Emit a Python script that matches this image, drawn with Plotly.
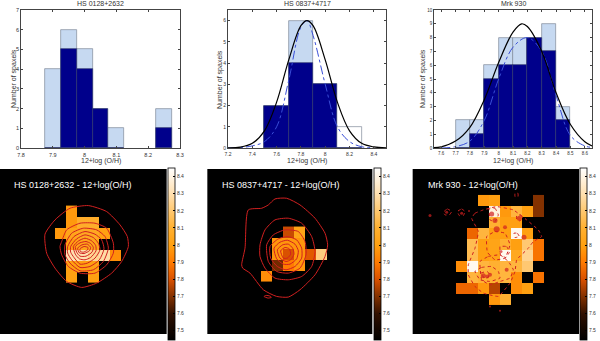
import plotly.graph_objects as go

W, H = 600, 341
FONT = "Liberation Sans"

# histogram data (bin centres, light = all spaxels, dark = subset)
h1_x = [7.9, 7.95, 8.0, 8.05, 8.1, 8.25]
h1_light = [4, 6, 5, 2, 1, 2]
h1_dark = [0, 5, 4, 2, 0, 1]
h1_ticks = [7.8, 7.9, 8.0, 8.1, 8.2, 8.3]
h1_ticktext = ["7.8", "7.9", "8", "8.1", "8.2", "8.3"]

h2_x = [7.6, 7.8, 8.0, 8.2]
h2_light = [2, 6, 3, 1]
h2_dark = [2, 4, 3, 0]
h2_ticks = [7.2, 7.4, 7.6, 7.8, 8.0, 8.2, 8.4]
h2_ticktext = ["7.2", "7.4", "7.6", "7.8", "8", "8.2", "8.4"]

h3_x = [7.75, 7.85, 7.95, 8.05, 8.15, 8.25, 8.35, 8.45]
h3_light = [2, 2, 6, 8, 8, 8, 9, 3]
h3_dark = [0, 1, 5, 6, 6, 8, 7, 2]
h3_ticks = [7.6, 7.7, 7.8, 7.9, 8.0, 8.1, 8.2, 8.3, 8.4, 8.5, 8.6]
h3_ticktext = ["7.6", "7.7", "7.8", "7.9", "8", "8.1", "8.2", "8.3", "8.4", "8.5", "8.6"]

# fitted curves
h2_black_x = [7.2, 7.3, 7.4, 7.5, 7.6, 7.7, 7.8, 7.85, 7.9, 8.0, 8.1, 8.2, 8.3, 8.4, 8.5]
h2_black_y = [0.01, 0.04, 0.22, 0.81, 2.16, 4.15, 5.76, 6.0, 5.76, 4.15, 2.16, 0.81, 0.22, 0.05, 0.01]
h2_blue_x = [7.2, 7.3, 7.4, 7.5, 7.6, 7.7, 7.8, 7.85, 7.9, 8.0, 8.1, 8.2, 8.3, 8.4]
h2_blue_y = [0.0, 0.02, 0.1, 0.3, 1.0, 3.2, 5.7, 6.0, 5.3, 3.0, 1.0, 0.3, 0.06, 0.01]
h3_black_x = [7.55, 7.6, 7.7, 7.8, 7.9, 8.0, 8.1, 8.16, 8.2, 8.3, 8.4, 8.5, 8.6, 8.65]
h3_black_y = [0.03, 0.08, 0.5, 1.5, 3.5, 6.2, 8.4, 9.0, 8.8, 7.0, 4.0, 1.7, 0.45, 0.15]
h3_blue_x = [7.6, 7.7, 7.8, 7.9, 8.0, 8.1, 8.2, 8.3, 8.4, 8.5, 8.6, 8.65]
h3_blue_y = [0.0, 0.1, 0.5, 2.0, 5.0, 7.3, 8.0, 7.0, 3.8, 0.9, 0.15, 0.05]

# abundance maps, one row per spaxel row, None = no data
cb_vals = [7.5, 7.6, 7.7, 7.8, 7.9, 8.0, 8.1, 8.2, 8.3, 8.4]
cb_text = ["7.5", "7.6", "7.7", "7.8", "7.9", "8", "8.1", "8.2", "8.3", "8.4"]
N = None
m1_x0, m1_y0 = 165, 122
m1 = [
    [N, 7.98, N, N, N, N],
    [N, 7.98, 8.08, 8.08, N, N],
    [7.98, 8.03, 8.05, 8.05, 8.0, N],
    [N, 8.0, 8.03, 8.03, N, N],
    [N, 8.3, 8.3, 8.25, 8.28, 7.95],
    [N, 8.0, 8.0, 8.0, N, N],
    [N, 8.0, N, 8.0, N, N],
]
m2_x0, m2_y0 = 183, 185
m2 = [
    [N, N, 7.78, 8.02, N, N, N],
    [N, 7.97, 7.97, 7.97, N, N, N],
    [N, 7.97, 7.8, 7.97, 7.82, 8.22, N],
    [N, 7.68, 7.9, 7.97, N, N, N],
    [7.95, N, N, N, N, N, N],
]
m3_x0, m3_y0 = 168, 90
m3 = [
    [N, N, 7.98, 8.0, N, N, N, 7.7],
    [N, N, N, 8.38, 7.98, 8.12, 8.0, 7.7],
    [N, N, N, 8.1, 8.0, 8.0, N, N],
    [N, 7.85, 8.12, 8.0, 8.0, 8.42, 8.0, N],
    [N, 8.15, 8.0, 8.02, 8.1, 8.0, 8.2, 7.88],
    [N, 8.15, 8.0, 8.02, 8.42, 8.05, 8.25, 7.88],
    [7.95, 8.42, 8.12, 8.1, 8.12, 8.12, 8.2, N],
    [N, 8.12, 8.1, 8.1, 8.12, 7.95, N, 7.88],
    [7.85, 7.85, 7.98, 7.76, N, 7.95, 8.0, N],
    [N, N, N, 7.98, 8.1, N, N, N],
]

# contours, in crop pixel units of each map
m1_contours = [
    ([135, 165, 210, 265, 320, 360, 382, 385, 365, 335, 290, 245, 200, 165, 140, 135],
     [208, 165, 130, 122, 140, 180, 215, 245, 290, 325, 355, 368, 350, 310, 265, 208]),
    ([185, 200, 240, 285, 320, 340, 340, 320, 285, 240, 205, 185, 180, 185],
     [230, 195, 175, 175, 190, 235, 265, 300, 325, 325, 305, 270, 245, 230]),
    ([195, 215, 250, 290, 315, 325, 310, 280, 240, 210, 195, 195],
     [240, 205, 190, 195, 215, 250, 290, 315, 318, 295, 270, 240]),
    ([203, 222, 255, 285, 305, 312, 298, 270, 240, 215, 203, 203],
     [245, 215, 200, 208, 225, 252, 285, 305, 308, 285, 265, 245]),
    ([212, 230, 255, 280, 295, 300, 285, 262, 240, 222, 212, 212],
     [245, 222, 210, 218, 235, 255, 280, 295, 298, 278, 262, 245]),
    ([220, 236, 255, 275, 287, 288, 272, 255, 238, 226, 220],
     [245, 228, 220, 228, 242, 258, 278, 285, 282, 268, 245]),
    ([226, 240, 258, 272, 280, 276, 258, 240, 230, 226],
     [245, 234, 230, 236, 248, 262, 274, 274, 262, 245]),
    ([233, 246, 262, 272, 268, 252, 238, 233],
     [250, 240, 238, 248, 258, 266, 264, 250]),
    ([240, 252, 264, 262, 250, 241, 240],
     [252, 245, 248, 256, 262, 260, 252]),
]
m2_contours = [
    ([125, 135, 145, 185, 205, 225, 260, 300, 345, 375, 383, 375, 345, 300, 265, 230, 190, 150, 128, 125],
     [300, 250, 135, 130, 120, 102, 100, 120, 160, 205, 240, 275, 330, 375, 397, 395, 375, 325, 310, 300]),
    ([180, 195, 225, 265, 305, 335, 345, 335, 305, 265, 225, 195, 180, 180],
     [240, 195, 165, 160, 175, 215, 260, 305, 335, 345, 340, 310, 275, 240]),
    ([200, 220, 255, 295, 315, 318, 300, 265, 230, 205, 200],
     [240, 210, 195, 200, 230, 270, 310, 325, 320, 290, 240]),
    ([210, 235, 262, 290, 305, 305, 285, 258, 232, 212, 210],
     [245, 222, 215, 225, 250, 280, 305, 315, 305, 280, 245]),
    ([222, 240, 262, 285, 295, 290, 270, 250, 230, 222],
     [250, 232, 226, 238, 258, 282, 298, 298, 282, 250]),
    ([232, 248, 265, 278, 282, 272, 258, 240, 232],
     [255, 240, 238, 250, 268, 285, 290, 280, 255]),
    ([242, 255, 268, 272, 262, 250, 242],
     [258, 248, 252, 268, 280, 280, 258]),
    ([192, 198, 210, 214, 204, 192],
     [395, 392, 394, 398, 400, 395]),
]
m3_contours = [
    ([215, 225, 250, 290, 340, 380, 415, 425, 400, 385, 350, 345, 330, 295, 250, 225, 205, 205, 225, 235, 215],
     [160, 145, 135, 125, 135, 165, 195, 215, 230, 250, 285, 320, 355, 395, 385, 365, 330, 300, 250, 200, 160]),
    ([240, 265, 300, 325, 340, 330, 300, 270, 245, 240],
     [290, 275, 270, 290, 315, 340, 350, 360, 345, 290]),
    ([260, 285, 315, 330, 315, 285, 262, 260],
     [215, 200, 205, 240, 280, 285, 262, 215]),
    ([225, 245, 275, 295, 300, 270, 240, 225],
     [320, 308, 305, 320, 340, 350, 345, 320]),
    ([268, 285, 295, 285, 270, 268],
     [130, 130, 150, 170, 165, 130]),
    ([130, 142, 155, 148, 135, 130],
     [142, 132, 140, 150, 150, 142]),
    ([172, 185, 195, 190, 178, 172],
     [140, 132, 140, 152, 152, 140]),
    ([350, 362, 368, 360, 350, 350],
     [152, 150, 160, 168, 165, 152]),
    ([300, 320, 328, 318, 302, 300],
     [245, 245, 262, 278, 272, 245]),
    ([342, 352, 358, 345, 342],
     [205, 205, 215, 218, 205]),
    ([345, 354, 354, 345, 345], [85, 85, 95, 95, 85]),
    ([243, 262, 270, 255, 243], [325, 320, 332, 342, 325]),
]
# small closed knots in the Mrk 930 contours
m3_knots_x = [275, 285, 290, 315, 358, 372, 250, 270, 320, 90, 140, 185, 207, 300, 270, 303, 262]
m3_knots_y = [147, 167, 193, 187, 160, 217, 333, 330, 315, 152, 142, 145, 138, 438, 425, 260, 335]
m3_knots_size = [5, 5, 6, 4, 5, 5, 5, 4, 4, 3, 3, 3, 2, 2, 2, 3, 4]

LIGHT = "#c6d9f1"
DARK = "#00008b"
HEAT = [[0, "#000000"], [0.15, "#301000"], [0.25, "#803000"], [0.35, "#d85000"], [0.45, "#ff7a00"],
        [0.55, "#ffa010"], [0.65, "#ffb030"], [0.75, "#ffc870"], [0.85, "#ffe0b0"], [1, "#ffffff"]]
CONTOUR = "#d02020"
TEXT = "#333"


def px_dom(a, b, total):
    return [a / total, b / total]


fig = go.Figure()
axis_n = 0


def add_hist(x, light, dark, width, left, right, xr, yr, ticks, ticktext, yticks, title, curves, tick_size,
             ytitle_x, light_colors=LIGHT):
    global axis_n
    axis_n += 1
    name = "" if axis_n == 1 else str(axis_n)
    xa, ya = "x" + name, "y" + name
    fig.add_trace(go.Bar(x=x, y=light, width=width, xaxis=xa, yaxis=ya,
                         marker=dict(color=light_colors, line=dict(color="#7f8a99", width=0.7))))
    fig.add_trace(go.Bar(x=x, y=dark, width=width, xaxis=xa, yaxis=ya,
                         marker=dict(color=DARK, line=dict(color="#303a70", width=0.7))))
    for cx, cy, col, dash, lw in curves:
        fig.add_trace(go.Scatter(x=cx, y=cy, mode="lines", xaxis=xa, yaxis=ya,
                                 line=dict(color=col, dash=dash, width=lw, shape="spline")))
    fig.update_layout({
        "xaxis" + name: dict(domain=px_dom(left, right, W), range=xr, tickvals=ticks, ticktext=ticktext,
                             anchor=ya, ticks="inside", ticklen=2, tickwidth=0.5, mirror="ticks",
                             showline=True, linecolor="#444", linewidth=0.8, showgrid=False, zeroline=False,
                             tickfont=dict(size=tick_size, color=TEXT), ticklabelstandoff=1),
        "yaxis" + name: dict(domain=[1 - 148 / H, 1 - 10 / H], range=yr, tickvals=yticks,
                             anchor=xa, ticks="inside", ticklen=2, tickwidth=0.5, mirror="ticks",
                             showline=True, linecolor="#444", linewidth=0.8, showgrid=False, zeroline=False,
                             tickfont=dict(size=tick_size, color=TEXT)),
    })
    mid = (left + right) / 2 / W
    fig.add_annotation(text=title, xref="paper", yref="paper", x=mid, y=1 - 4 / H, xanchor="center",
                       yanchor="middle", showarrow=False, font=dict(size=7, color=TEXT))
    fig.add_annotation(text="12+log (O/H)", xref="paper", yref="paper", x=mid, y=1 - 161 / H, xanchor="center",
                       yanchor="middle", showarrow=False, font=dict(size=7, color=TEXT))
    fig.add_annotation(text="Number of spaxels", xref="paper", yref="paper", x=ytitle_x / W, y=1 - 79 / H,
                       xanchor="center", yanchor="middle", textangle=-90, showarrow=False,
                       font=dict(size=7, color=TEXT))


def add_map(z, x0, y0, crop_x, crop_right, cb_left, contours, label, label_x, dash="solid", smooth=0.6, knots=None):
    global axis_n
    axis_n += 1
    name = str(axis_n)
    xa, ya = "x" + name, "y" + name
    # axes run in crop units (3 per pixel) so the contour lists can be read straight off the crop
    fig.add_trace(go.Heatmap(z=z, x0=x0 + 16.5, dx=33, y0=y0 + 16.5, dy=33, xaxis=xa, yaxis=ya,
                             zmin=7.445, zmax=8.45, colorscale=HEAT,
                             colorbar=dict(x=cb_left / W, xanchor="left", xpad=0, ypad=0, thickness=7,
                                           thicknessmode="pixels", lenmode="pixels", len=172,
                                           y=1 - 168 / H, yanchor="top", outlinecolor="#000", outlinewidth=0.8,
                                           tickvals=cb_vals, ticktext=cb_text, ticks="inside", ticklen=2,
                                           tickcolor="#000", tickwidth=0.5,
                                           tickfont=dict(size=5, color=TEXT))))
    for cx, cy in contours:
        fig.add_trace(go.Scatter(x=cx, y=cy, mode="lines", xaxis=xa, yaxis=ya,
                                 line=dict(color=CONTOUR, width=1, dash=dash, shape="spline", smoothing=smooth)))
    if knots:
        fig.add_trace(go.Scatter(x=knots[0], y=knots[1], mode="markers", xaxis=xa, yaxis=ya,
                                 marker=dict(color=CONTOUR, size=knots[2], line_width=0)))
    left = 200 * (crop_x // 200) + (crop_x % 200) / 3
    right = 200 * (crop_x // 200) + crop_right / 3
    fig.update_layout({
        "xaxis" + name: dict(domain=px_dom(left, right, W), range=[crop_x % 200, crop_right],
                             visible=False, anchor=ya),
        "yaxis" + name: dict(domain=[1 - 334 / H, 1 - 169 / H], range=[508, 12],
                             visible=False, anchor=xa),
    })
    fig.add_shape(type="rect", xref="paper", yref="paper", x0=left / W, x1=right / W,
                  y0=1 - 334 / H, y1=1 - 169 / H, fillcolor="#000", line_width=0, layer="below")
    fig.add_annotation(text=label, xref="paper", yref="paper", x=label_x / W, y=1 - 185 / H, xanchor="left",
                       yanchor="middle", showarrow=False, font=dict(size=9, color="#fff"))


add_hist(h1_x, h1_light, h1_dark, 0.05, 21, 180, [7.8, 8.3], [0, 7], h1_ticks, h1_ticktext,
         list(range(8)), "HS 0128+2632", [], 5.5, 14)
add_hist(h2_x, h2_light, h2_dark, 0.2, 228, 386, [7.2, 8.5], [0, 6.5], h2_ticks, h2_ticktext,
         list(range(7)), "HS 0837+4717",
         [(h2_blue_x, h2_blue_y, "#3a4fd8", "dashdot", 1.0), (h2_black_x, h2_black_y, "#000", "solid", 1.2)],
         5, 220, [LIGHT, LIGHT, LIGHT, "#fff"])
add_hist(h3_x, h3_light, h3_dark, 0.1, 434, 592, [7.55, 8.65], [0, 10], h3_ticks, h3_ticktext,
         list(range(11)), "Mrk 930",
         [(h3_blue_x, h3_blue_y, "#3a4fd8", "dashdot", 1.0), (h3_black_x, h3_black_y, "#000", "solid", 1.2)],
         4.5, 423)

add_map(m1, m1_x0, m1_y0, 0, 500, 168, m1_contours, "HS 0128+2632 - 12+log(O/H)", 12)
add_map(m2, m2_x0, m2_y0, 222, 517, 374, m2_contours, "HS 0837+4717 - 12+log(O/H)", 220)
add_map(m3, m3_x0, m3_y0, 438, 537, 580, m3_contours, "Mrk 930 - 12+log(O/H)", 426, dash="dot", smooth=0.3,
        knots=(m3_knots_x, m3_knots_y, m3_knots_size))

fig.update_layout(width=W, height=H, autosize=False, margin=dict(l=0, r=0, t=0, b=0, autoexpand=False),
                  barmode="overlay", bargap=0, showlegend=False, plot_bgcolor="#fff", paper_bgcolor="#fff",
                  font=dict(family=FONT, size=6))
# the page's default body margin would push the figure 8px off
fig.write_html("out.html", post_script="document.body.style.margin='0';", config=dict(displayModeBar=False))
